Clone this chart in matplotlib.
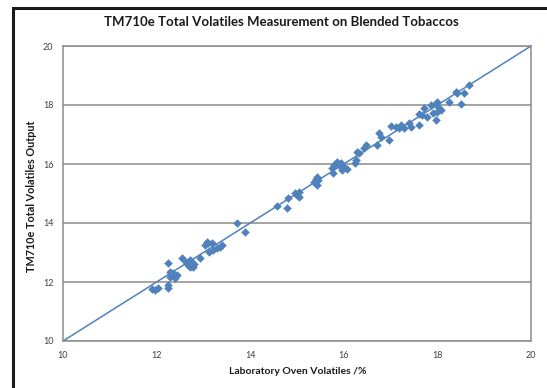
import matplotlib.pyplot as plt
from matplotlib.patches import Rectangle

# Laboratory oven volatiles (%) vs TM710e output
oven = [11.90, 11.96, 12.02, 12.24, 12.24, 12.24, 12.28, 12.35, 12.32, 12.28,
        12.39, 12.43, 12.54, 12.71, 12.75, 12.67, 12.77, 12.71, 12.62, 12.92,
        13.07, 13.09, 13.18, 13.03, 13.39, 13.35, 13.13, 13.30, 13.71, 13.88,
        14.58, 14.78, 14.80, 15.05, 15.01, 15.05, 14.95, 15.37, 15.42, 15.44,
        15.42, 15.40, 15.74, 15.76, 15.80, 15.84, 15.86, 15.90, 15.95, 16.01,
        16.06, 15.97, 16.23, 16.27, 16.29, 16.33, 16.44, 16.48, 16.72, 16.76,
        16.80, 16.97, 17.01, 17.12, 17.19, 17.23, 17.29, 17.40, 17.44, 17.61,
        17.61, 17.68, 17.78, 17.72, 17.87, 17.97, 18.00, 18.04, 18.08, 18.00,
        17.97, 17.90, 18.25, 18.40, 18.42, 18.57, 18.51, 18.68, 13.20, 12.80]
tm710e = [11.76, 11.73, 11.80, 12.64, 11.90, 11.80, 12.34, 12.31, 12.24, 12.17,
          12.14, 12.24, 12.81, 12.75, 12.64, 12.58, 12.51, 12.51, 12.68, 12.81,
          13.36, 13.32, 13.32, 13.25, 13.25, 13.19, 13.02, 13.15, 14.00, 13.69,
          14.58, 14.51, 14.85, 15.05, 14.95, 14.88, 15.02, 15.39, 15.56, 15.46,
          15.29, 15.50, 15.86, 15.69, 15.97, 16.03, 16.07, 15.97, 16.03, 15.90,
          15.83, 15.80, 16.03, 16.14, 16.41, 16.37, 16.54, 16.64, 16.64, 17.05,
          16.92, 16.81, 17.30, 17.25, 17.22, 17.32, 17.22, 17.39, 17.25, 17.69,
          17.32, 17.66, 17.59, 17.90, 18.00, 18.03, 18.10, 17.90, 17.83, 17.76,
          17.49, 17.72, 18.10, 18.44, 18.41, 18.41, 18.03, 18.68, 13.10, 12.62]
ref_line = [10, 20]

blue = '#4f81bd'
grey = '#8c8c8c'

fig = plt.figure(figsize=(5.47, 3.88), dpi=100)
# black chart frame running off the right/bottom of the picture
fig.patches.append(Rectangle((13/547, -0.2), 1.2, 1 - 8/388 + 0.2,
                             transform=fig.transFigure, fill=False,
                             edgecolor='#1a1a1a', linewidth=2.2))

ax = fig.add_axes([63/547, 1 - 341/388, (531 - 63)/547, (341 - 46)/388])
ax.plot(ref_line, ref_line, color=blue, linewidth=1.1, zorder=2)
ax.scatter(oven, tm710e, marker='D', s=16, color=blue, edgecolors=blue,
           linewidths=0.3, zorder=3)

ax.set_xlim(10, 20)
ax.set_ylim(10, 20)
ax.set_xticks([10, 12, 14, 16, 18, 20])
ax.set_yticks([10, 12, 14, 16, 18, 20])
ax.yaxis.grid(True, color=grey, linewidth=1.1)
ax.set_axisbelow(True)
for s in ax.spines.values():
    s.set_color(grey)
    s.set_linewidth(1.1)
ax.tick_params(length=0, labelsize=6.5, labelcolor='#404040', pad=7)
for lab in ax.get_xticklabels() + ax.get_yticklabels():
    lab.set_family('Lato')

fig.text(281/547, 1 - 22/388, 'TM710e Total Volatiles Measurement on Blended Tobaccos',
         ha='center', va='center', fontsize=9.5, fontweight='bold',
         family='Lato', color='#1a1a1a')
fig.text(298/547, 1 - 372/388, 'Laboratory Oven Volatiles /%', ha='center',
         va='center', fontsize=7.5, fontweight='bold', family='Lato', color='#1a1a1a')
fig.text(32/547, 1 - 196/388, 'TM710e Total Volatiles Output', ha='center',
         va='center', rotation=90, fontsize=7.8, fontweight='bold',
         family='Lato', color='#1a1a1a')

fig.savefig('out.png', dpi=100)
